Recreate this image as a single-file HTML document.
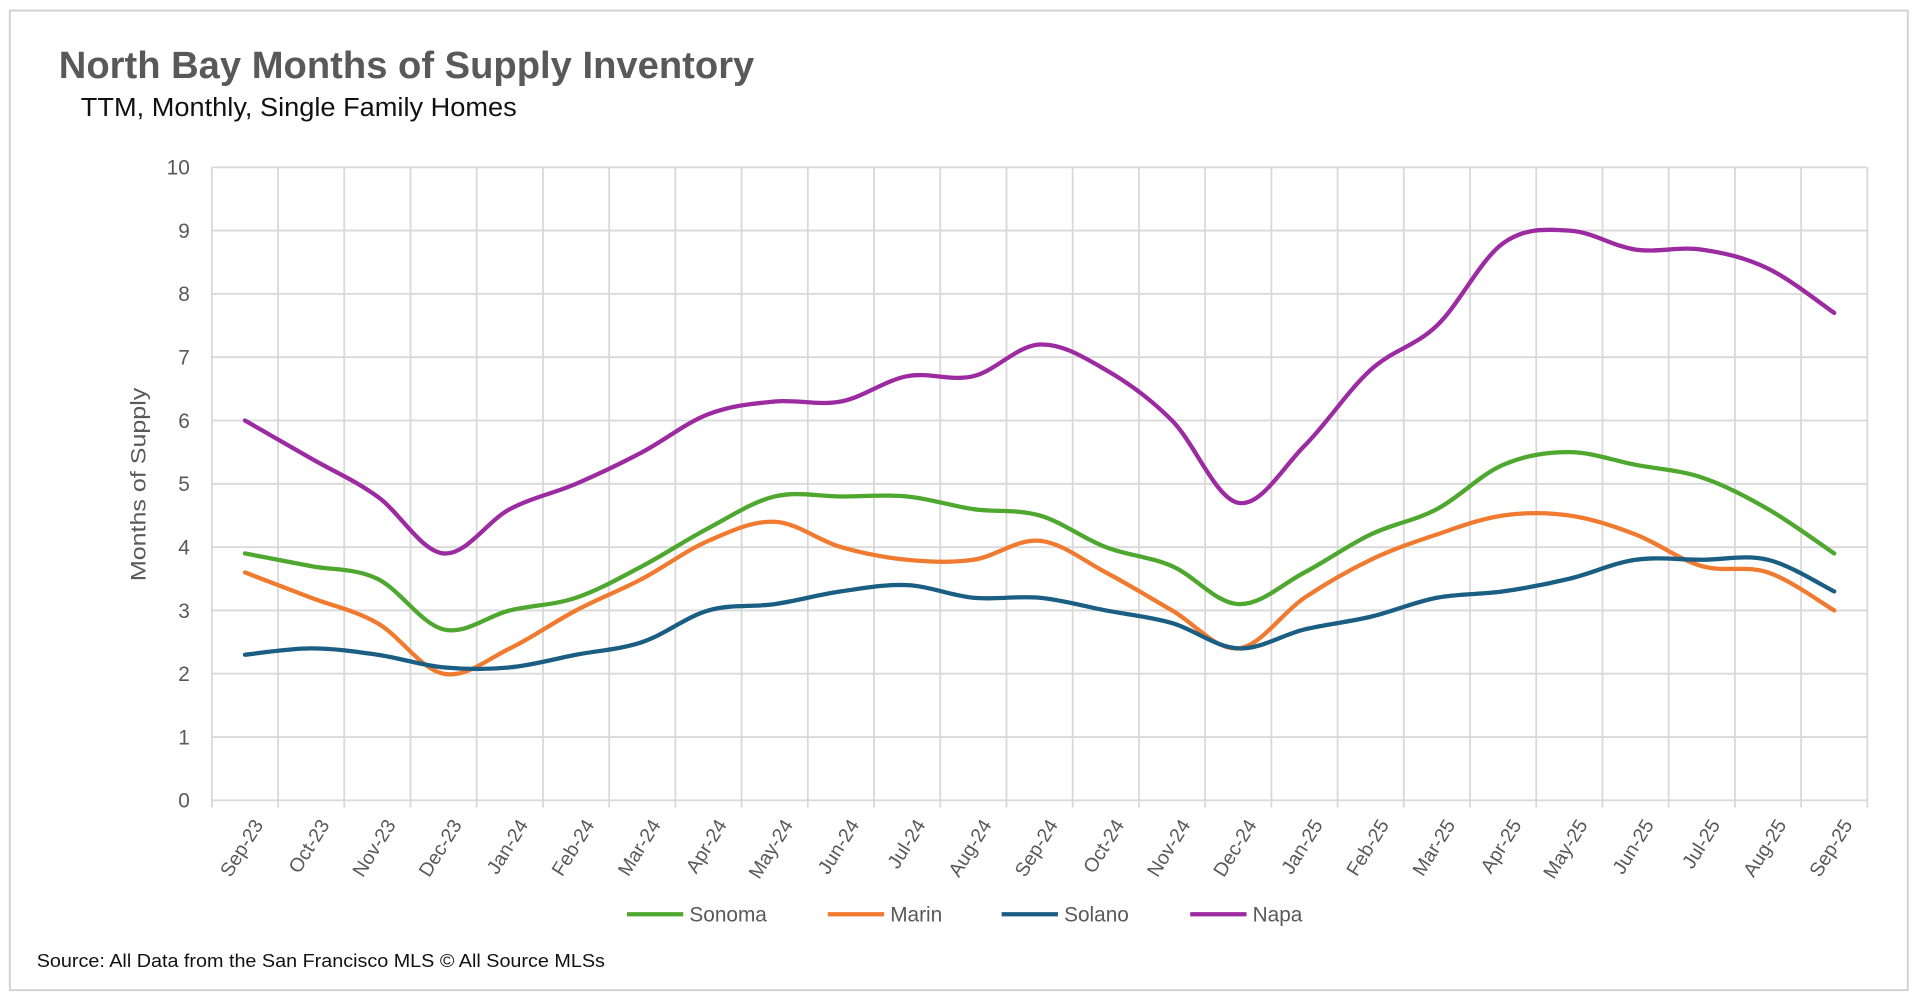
<!DOCTYPE html>
<html><head><meta charset="utf-8"><style>
html,body{margin:0;padding:0;background:#fff;}
svg{display:block;font-family:"Liberation Sans",sans-serif;}
</style></head><body>
<svg id="chart" width="1920" height="997" viewBox="0 0 1568 813" xmlns="http://www.w3.org/2000/svg">
<rect x="8" y="8" width="1550" height="800" fill="#fff" stroke="#d0d0d0" stroke-width="1.5"/>
<text x="48" y="63" font-size="31" font-weight="bold" fill="#595959" textLength="568" lengthAdjust="spacingAndGlyphs">North Bay Months of Supply Inventory</text>
<text x="66" y="94" font-size="21" fill="#111" textLength="356" lengthAdjust="spacingAndGlyphs">TTM, Monthly, Single Family Homes</text>
<g id="grid"></g>
<g id="yticks"></g>
<g id="xticks"></g>
<g id="series"></g>
<text transform="translate(119,395) rotate(-90)" text-anchor="middle" font-size="17" fill="#595959" textLength="158" lengthAdjust="spacingAndGlyphs">Months of Supply</text>
<g id="legend"></g>
<text x="30" y="789" font-size="15" fill="#111" textLength="464" lengthAdjust="spacingAndGlyphs">Source: All Data from the San Francisco MLS © All Source MLSs</text>
</svg>
<script>
const categories=["Sep-23","Oct-23","Nov-23","Dec-23","Jan-24","Feb-24","Mar-24","Apr-24","May-24","Jun-24","Jul-24","Aug-24","Sep-24","Oct-24","Nov-24","Dec-24","Jan-25","Feb-25","Mar-25","Apr-25","May-25","Jun-25","Jul-25","Aug-25","Sep-25"];
const sonoma=[3.9,3.7,3.5,2.7,3.0,3.2,3.7,4.3,4.8,4.8,4.8,4.6,4.5,4.0,3.7,3.1,3.6,4.2,4.6,5.3,5.5,5.3,5.1,4.6,3.9];
const marin=[3.6,3.2,2.8,2.0,2.4,3.0,3.5,4.1,4.4,4.0,3.8,3.8,4.1,3.6,3.0,2.4,3.2,3.8,4.2,4.5,4.5,4.2,3.7,3.6,3.0];
const solano=[2.3,2.4,2.3,2.1,2.1,2.3,2.5,3.0,3.1,3.3,3.4,3.2,3.2,3.0,2.8,2.4,2.7,2.9,3.2,3.3,3.5,3.8,3.8,3.8,3.3];
const napa=[6.0,5.4,4.8,3.9,4.6,5.0,5.5,6.1,6.3,6.3,6.7,6.7,7.2,6.8,6.0,4.7,5.6,6.8,7.5,8.8,9.0,8.7,8.7,8.4,7.7];
const yTicks=[0,1,2,3,4,5,6,7,8,9,10];
const seriesNames=["Sonoma","Marin","Solano","Napa"];
const NS="http://www.w3.org/2000/svg";
const L=173,R=1525,T=136,B=653,step=(R-L)/categories.length;
const xs=i=>L+step*(i+0.5);
const ys=v=>B-(v/10)*(B-T);
function mk(tag,attrs,parent){const e=document.createElementNS(NS,tag);for(const k in attrs)e.setAttribute(k,attrs[k]);parent.appendChild(e);return e;}
const grid=document.getElementById('grid');
yTicks.forEach(v=>{const l=mk('line',{x1:L,x2:R,y1:ys(v),y2:ys(v),stroke:'#d9d9d9','stroke-width':1.5},grid);


const t=mk('text',{x:L-18,y:ys(v)+6,'text-anchor':'end','font-size':17,fill:'#595959'},document.getElementById('yticks'));t.textContent=v;

});
for(let i=0;i<=categories.length;i++){const l=mk('line',{x1:L+step*i,x2:L+step*i,y1:T,y2:B+6,stroke:'#d9d9d9','stroke-width':1.5},grid);

}
categories.forEach((c,i)=>{const x=xs(i)+6,y=B+14;const t=mk('text',{x:x,y:y,'text-anchor':'end','font-size':16,fill:'#595959',transform:`rotate(-58 ${x} ${y})`,dy:'0.7em'},document.getElementById('xticks'));t.textContent=c;

});
function smooth(vals){const p=vals.map((v,i)=>[xs(i),ys(v)]);let d=`M${p[0][0]},${p[0][1]}`;
for(let i=0;i<p.length-1;i++){const p0=p[i-1]||p[i],p1=p[i],p2=p[i+1],p3=p[i+2]||p2;const k=0.17;
d+=` C${p1[0]+(p2[0]-p0[0])*k},${p1[1]+(p2[1]-p0[1])*k} ${p2[0]-(p3[0]-p1[0])*k},${p2[1]-(p3[1]-p1[1])*k} ${p2[0]},${p2[1]}`;}return d;}
const colors=["#4ea72e","#f07a2f","#1b5e84","#9c2aa0"];
const data=[sonoma,marin,solano,napa];
const sg=document.getElementById('series');
data.forEach((vals,k)=>{const p=mk('path',{d:smooth(vals),fill:'none',stroke:colors[k],'stroke-width':3.5,'stroke-linecap':'round'},sg);

});
const lg=document.getElementById('legend');const lx=[512,676,818,972];
seriesNames.forEach((n,k)=>{const g=mk('g',{},lg);


mk('line',{x1:lx[k],x2:lx[k]+46,y1:746,y2:746,stroke:colors[k],'stroke-width':3.5},g);
const t=mk('text',{x:lx[k]+51,y:752,'font-size':17,fill:'#595959'},g);t.textContent=n;});
</script>
</body></html>
